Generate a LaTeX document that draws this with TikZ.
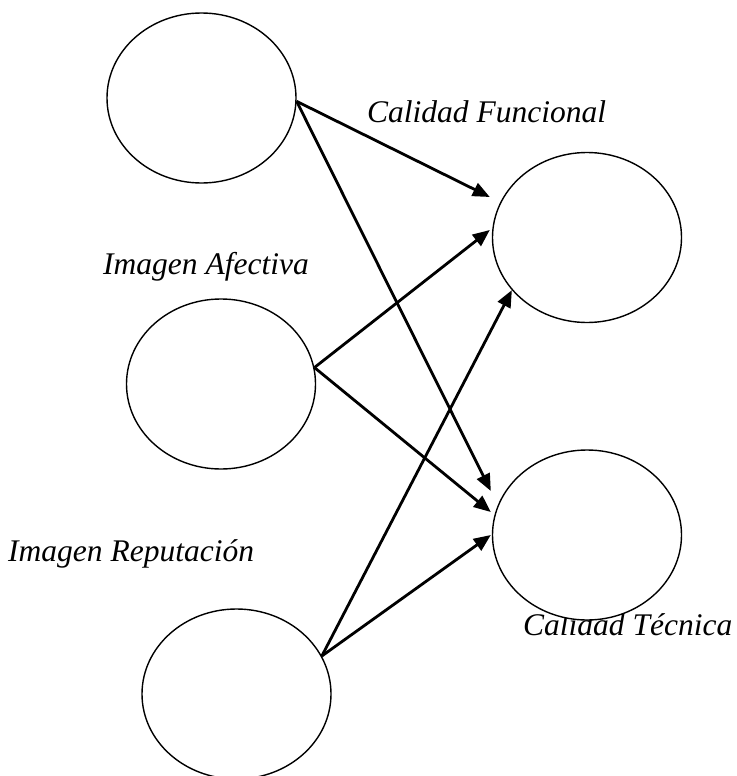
\documentclass[tikz,border=0pt]{standalone}
\usepackage{fontspec}
\setmainfont{Liberation Serif}
\usetikzlibrary{arrows.meta,shapes.geometric,calc}
\begin{document}
\begin{tikzpicture}[x=1pt,y=-1pt,
  oval/.style={ellipse,draw,fill=white,line width=1.4pt,minimum width=189pt,minimum height=170pt,inner sep=0pt},
  lbl/.style={font=\fontsize{31.5}{36}\selectfont\itshape,inner sep=0pt,anchor=base west},
  arr/.style={line width=2.8pt,-{Triangle[length=17pt,width=14pt]}}]
\useasboundingbox (0,0) rectangle (736,776);
% labels
\node[lbl] (t1) at (367,122) {Calidad Funcional};
\node[lbl] (t2) at (103,274) {Imagen Afectiva};
\node[lbl] (t3) at (8,561) {Imagen Reputación};
\node[lbl] (t4) at (523,635) {Calidad Técnica};
% ellipses
\node[oval] (e1) at (201.5,98) {};
\node[oval] (e2) at (221,384) {};
\node[oval] (e3) at (236.5,694) {};
\node[oval] (e4) at (587,237.5) {};
\node[oval] (e5) at (587,535) {};
% arrows
\draw[arr] (e1.-2.4) -- ([shift={(-2,-40.5)}]e4.west);
\draw[arr] (e1.-2.4) -- ([shift={(-1,-44)}]e5.west);
\draw[arr] (e2.10.6) -- ([shift={(-2,-7.5)}]e4.west);
\draw[arr] (e2.10.6) -- ([shift={(-1,-23)}]e5.west);
\draw[arr] (e3.24.3) -- (e4.215.3);
\draw[arr] (e3.24.3) -- ([shift={(-1,0)}]e5.west);
\end{tikzpicture}
\end{document}
